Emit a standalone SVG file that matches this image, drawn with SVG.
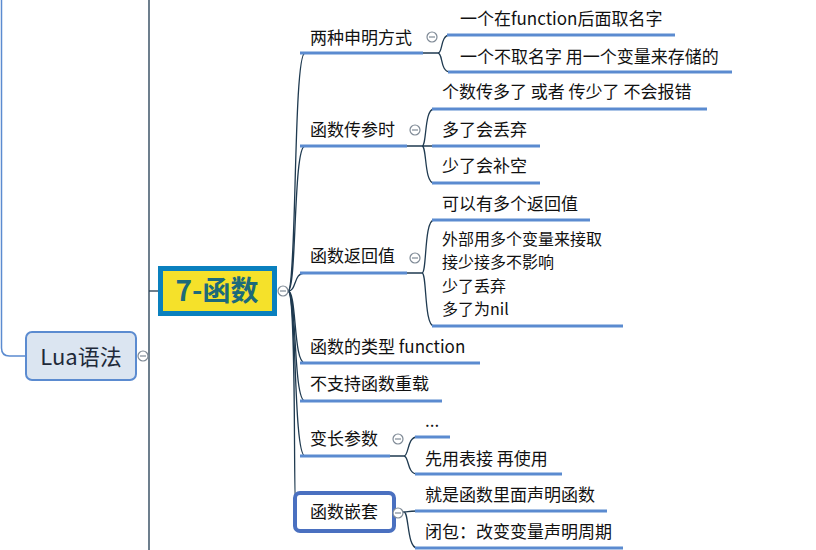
<svg xmlns="http://www.w3.org/2000/svg" width="816" height="550" viewBox="0 0 816 550">
<style>
.t{font-family:"Noto Sans CJK SC","Noto Sans",sans-serif;font-size:17px;fill:#111}
.ul{stroke:#5b8bd0;stroke-width:3;fill:none}
.dk{stroke:#1f3a50;stroke-width:1.3;fill:none}
.col{fill:#fff;stroke:#7f8a96;stroke-width:1.2}
.colm{stroke:#7f8a96;stroke-width:1.2}
</style>
<rect width="816" height="550" fill="#fff"/>
<g id="connectors">
<path d="M1.5,0 L1.5,348 Q1.5,356 9.5,356 L26,356" stroke="#5b8bd0" stroke-width="1.5" fill="none"/>
<path d="M149,0 L149,550" class="dk"/>
<path d="M149,291 L158,291" class="dk"/>
<path d="M288,291 C297,291 293,53 305,53" class="dk"/>
<path d="M288,291 C297,291 293,146 305,146" class="dk"/>
<path d="M288,291 C297,291 293,273 305,273" class="dk"/>
<path d="M288,291 C297,291 293,363 305,363" class="dk"/>
<path d="M288,291 C297,291 293,401 305,401" class="dk"/>
<path d="M288,291 C297,291 293,456 305,456" class="dk"/>
<path d="M288,291 C297,291 293,512 296,512" class="dk"/>
<path d="M423,53 L438,53 C443,53 440,35 450,35 M438,53 C443,53 440,72 450,72" class="dk"/>
<path d="M407,146 L422,146 C427,146 424,109 434,109 M422,146 L434,146 M422,146 C427,146 424,183 434,183" class="dk"/>
<path d="M407,273 L422,273 C427,273 424,220 434,220 M422,273 C427,273 424,326 434,326" class="dk"/>
<path d="M390,456 L404,456 C409,456 407,437 417,437 M404,456 C409,456 407,474 417,474" class="dk"/>
<path d="M396,512 L404,512 C409,512 407,511 417,511 M404,512 C409,512 407,548 417,548" class="dk"/>
</g>
<g id="lua">
<rect x="26" y="332" width="110" height="48" rx="6" fill="#dbe5f1" stroke="#5b8bd0" stroke-width="2"/>
<text x="81" y="365" text-anchor="middle" font-family="Noto Sans CJK SC,sans-serif" font-size="22" fill="#1e2a3a">Lua语法</text>
<circle cx="143" cy="356" r="5" class="col"/><path d="M140,356 h6" class="colm"/>
</g>
<g id="center">
<rect x="160.5" y="268.5" width="114" height="45" fill="#f5e12a" stroke="#0a80be" stroke-width="5"/>
<text x="217" y="301" text-anchor="middle" font-family="Noto Sans CJK SC,sans-serif" font-size="28" font-weight="bold" fill="#1d6a7a">7-函数</text>
<circle cx="283" cy="291" r="5" class="col"/><path d="M280,291 h6" class="colm"/>
</g>
<g id="s1">
<text x="310" y="44" class="t">两种申明方式</text>
<path d="M300,53 L423,53" class="ul"/>
<circle cx="432" cy="37" r="5" class="col"/><path d="M429,37 h6" class="colm"/>
</g>
<g id="s1a"><text x="460" y="25" class="t">一个在function后面取名字</text><path d="M447,35 L675,35" class="ul"/></g>
<g id="s1b"><text x="460" y="63" class="t">一个不取名字 用一个变量来存储的</text><path d="M448,72 L732,72" class="ul"/></g>
<g id="s2">
<text x="310" y="136" class="t">函数传参时</text>
<path d="M300,146 L407,146" class="ul"/>
<circle cx="415" cy="130" r="5" class="col"/><path d="M412,130 h6" class="colm"/>
</g>
<g id="s2a"><text x="442" y="98" class="t">个数传多了 或者 传少了 不会报错</text><path d="M432,109 L707,109" class="ul"/></g>
<g id="s2b"><text x="442" y="136" class="t">多了会丢弃</text><path d="M432,146 L540,146" class="ul"/></g>
<g id="s2c"><text x="442" y="172" class="t">少了会补空</text><path d="M432,183 L540,183" class="ul"/></g>
<g id="s3">
<text x="310" y="262" class="t">函数返回值</text>
<path d="M300,273 L407,273" class="ul"/>
<circle cx="415" cy="258" r="5" class="col"/><path d="M412,258 h6" class="colm"/>
</g>
<g id="s3a"><text x="442" y="210" class="t">可以有多个返回值</text><path d="M432,220 L590,220" class="ul"/></g>
<g id="s3b"><text class="t" style="font-size:16px"><tspan x="442" y="245">外部用多个变量来接取</tspan><tspan x="442" y="268.4">接少接多不影响</tspan><tspan x="442" y="291.8">少了丢弃</tspan><tspan x="442" y="315.2">多了为nil</tspan></text><path d="M432,326 L623,326" class="ul"/></g>
<g id="s4"><text x="310" y="353" class="t">函数的类型 function</text><path d="M300,363 L480,363" class="ul"/></g>
<g id="s5"><text x="310" y="390" class="t">不支持函数重载</text><path d="M300,401 L442,401" class="ul"/></g>
<g id="s6">
<text x="310" y="445" class="t">变长参数</text>
<path d="M300,456 L390,456" class="ul"/>
<circle cx="398" cy="439" r="5" class="col"/><path d="M395,439 h6" class="colm"/>
</g>
<g id="s6a"><text x="425" y="427" class="t">...</text><path d="M415,437 L450,437" class="ul"/></g>
<g id="s6b"><text x="425" y="465" class="t">先用表接 再使用</text><path d="M415,474 L562,474" class="ul"/></g>
<g id="s7">
<rect x="295" y="493" width="99" height="38" rx="5" fill="#fff" stroke="#4a70c0" stroke-width="4"/>
<text x="310" y="518" class="t">函数嵌套</text>
<circle cx="398" cy="513" r="5" class="col"/><path d="M395,513 h6" class="colm"/>
</g>
<g id="s7a"><text x="425" y="501" class="t">就是函数里面声明函数</text><path d="M415,511 L607,511" class="ul"/></g>
<g id="s7b"><text x="425" y="538" class="t">闭包：改变变量声明周期</text><path d="M415,548 L623,548" class="ul"/></g>
</svg>
